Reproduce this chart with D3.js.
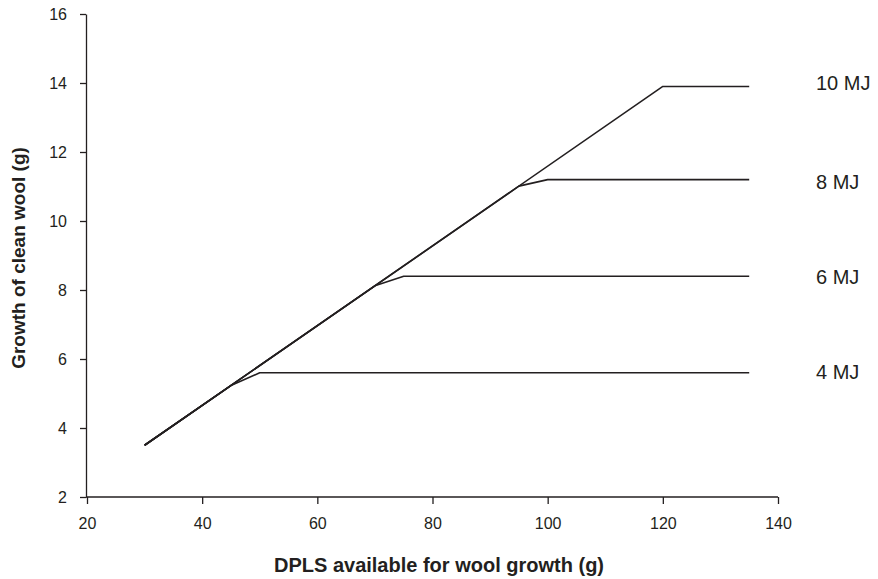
<!DOCTYPE html>
<html><head><meta charset="utf-8">
<script src="https://cdn.jsdelivr.net/npm/d3@7"></script>
<style>body{margin:0;background:#fff}svg{display:block}text{font-family:"Liberation Sans",Arial,Helvetica,sans-serif;fill:#231f20}</style>
</head><body><svg id="c" width="878" height="579"></svg>
<script>
const xTicks = [20, 40, 60, 80, 100, 120, 140];
const yTicks = [2, 4, 6, 8, 10, 12, 14, 16];
const seriesNames = ["4 MJ", "6 MJ", "8 MJ", "10 MJ"];
const seriesX = [
  [30, 45, 50, 135],
  [30, 70, 75, 135],
  [30, 95, 100, 135],
  [30, 120, 135]
];
const seriesY = [
  [3.5, 5.23, 5.6, 5.6],
  [3.5, 8.12, 8.4, 8.4],
  [3.5, 11.01, 11.2, 11.2],
  [3.5, 13.9, 13.9]
];
const labelY = [5.62, 8.38, 11.13, 14.0];

const svg = d3.select("#c");
const x = d3.scaleLinear().domain([20, 140]).range([87, 778]);
const y = d3.scaleLinear().domain([2, 16]).range([497, 14]);
const col = "#231f20";

const xa = svg.append("g").attr("transform", "translate(0,497)")
  .call(d3.axisBottom(x).tickValues(xTicks).tickSize(7).tickPadding(14).tickSizeOuter(0));
xa.select(".domain").attr("d", "M86,0H778");
const ya = svg.append("g").attr("transform", "translate(86,0)")
  .call(d3.axisLeft(y).tickValues(yTicks).tickSize(6).tickPadding(13).tickSizeOuter(0));
[xa, ya].forEach(a => {
  a.selectAll("path,line").attr("stroke", col).attr("stroke-width", 1.3);
  a.selectAll("text").attr("font-size", 16).attr("fill", col).style("font-family", '"Liberation Sans",Arial,sans-serif');
});

const line = d3.line().x(d => x(d[0])).y(d => y(d[1]));
seriesX.forEach((xs, i) => {
  const pts = xs.map((v, j) => [v, seriesY[i][j]]);
  svg.append("path").attr("d", line(pts)).attr("fill", "none")
    .attr("stroke", col).attr("stroke-width", 1.6).attr("stroke-linejoin", "round");
  svg.append("text").attr("x", 816).attr("y", y(labelY[i])).attr("dy", "0.35em")
    .attr("font-size", 20).text(seriesNames[i]);
});

svg.append("text").attr("x", 439).attr("y", 572).attr("text-anchor", "middle")
  .attr("font-size", 20).attr("font-weight", "bold").text("DPLS available for wool growth (g)");
svg.append("text").attr("transform", "translate(25,258) rotate(-90)").attr("text-anchor", "middle")
  .attr("font-size", 19).attr("font-weight", "bold").text("Growth of clean wool (g)");
</script></body></html>
